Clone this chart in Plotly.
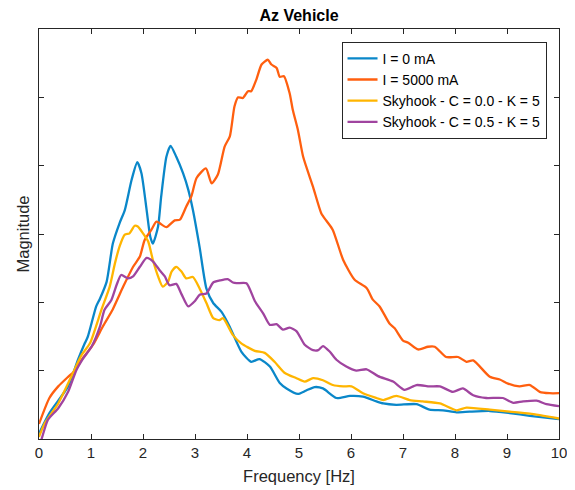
import plotly.graph_objects as go

title_text = "Az Vehicle"
x_label = "Frequency [Hz]"
y_label = "Magnitude"
x_ticks = [0, 1, 2, 3, 4, 5, 6, 7, 8, 9, 10]
y_ticks = [0, 1, 2, 3, 4, 5, 6]

names = ["I = 0 mA", "I = 5000 mA", "Skyhook - C = 0.0 - K = 5", "Skyhook - C = 0.5 - K = 5"]
colors = ["#0A87C9", "#FF5F0F", "#FFB500", "#A0449F"]

f_i0 = [0, 0.2, 0.56, 0.75, 0.88, 0.94, 1.1, 1.17, 1.3, 1.42, 1.55, 1.65, 1.78, 1.89, 1.97, 2.07, 2.14,
        2.19, 2.29, 2.35, 2.45, 2.53, 2.64, 2.77, 2.87, 2.96, 3.09, 3.22, 3.35, 3.51, 3.67, 3.89, 4.08,
        4.24, 4.44, 4.63, 4.76, 4.98, 5.14, 5.3, 5.46, 5.72, 5.98, 6.23, 6.49, 6.62, 6.87, 7.26, 7.51,
        7.77, 8.03, 8.28, 8.67, 9.05, 9.44, 10]
m_i0 = [0.08, 0.38, 0.77, 1.16, 1.4, 1.5, 1.94, 2.05, 2.3, 2.86, 3.16, 3.35, 3.79, 4.05, 3.89, 3.35, 2.96,
        2.86, 3.11, 3.55, 4.13, 4.29, 4.13, 3.89, 3.65, 3.35, 2.8, 2.2, 1.99, 1.86, 1.64, 1.28, 1.13,
        1.17, 1.06, 0.82, 0.74, 0.66, 0.71, 0.76, 0.74, 0.6, 0.63, 0.62, 0.55, 0.52, 0.5, 0.51, 0.43,
        0.42, 0.39, 0.4, 0.41, 0.38, 0.34, 0.29]

f_i5000 = [0, 0.2, 0.37, 0.56, 0.69, 0.82, 1.04, 1.23, 1.42, 1.62, 1.81, 1.94, 2.03, 2.16, 2.26, 2.45,
           2.61, 2.71, 2.83, 2.93, 3.03, 3.21, 3.32, 3.44, 3.57, 3.67, 3.76, 3.83, 3.92, 4.02, 4.08,
           4.18, 4.28, 4.4, 4.47, 4.57, 4.63, 4.71, 4.82, 4.88, 4.98, 5.08, 5.27, 5.43, 5.53, 5.65,
           5.85, 6.07, 6.3, 6.42, 6.55, 6.74, 6.84, 7.0, 7.1, 7.29, 7.48, 7.61, 7.83, 8.06, 8.22, 8.35,
           8.67, 8.86, 9.02, 9.24, 9.44, 9.63, 9.82, 10]
m_i5000 = [0.22, 0.6, 0.77, 0.91, 1.0, 1.16, 1.38, 1.65, 1.9, 2.23, 2.52, 2.67, 2.91, 3.06, 3.18, 3.1,
           3.2, 3.21, 3.4, 3.55, 3.82, 3.96, 3.74, 3.87, 4.28, 4.43, 4.87, 5.0, 4.99, 5.09, 5.09,
           5.26, 5.48, 5.55, 5.48, 5.43, 5.3, 5.31, 5.06, 4.82, 4.52, 4.13, 3.69, 3.3, 3.19, 3.06,
           2.62, 2.33, 2.21, 2.04, 1.94, 1.69, 1.62, 1.44, 1.41, 1.31, 1.35, 1.35, 1.2, 1.2, 1.13, 1.15,
           0.91, 0.87, 0.81, 0.77, 0.79, 0.69, 0.67, 0.67]

f_sky0 = [0, 0.11, 0.37, 0.62, 0.82, 0.98, 1.2, 1.36, 1.46, 1.55, 1.65, 1.74, 1.84, 1.9, 2.0, 2.1, 2.19,
          2.29, 2.38, 2.48, 2.55, 2.64, 2.74, 2.83, 2.96, 3.09, 3.22, 3.35, 3.47, 3.54, 3.73, 3.89,
          4.15, 4.34, 4.53, 4.72, 4.95, 5.11, 5.27, 5.46, 5.65, 5.85, 6.01, 6.23, 6.49, 6.62, 6.87,
          7.13, 7.38, 7.71, 8.03, 8.22, 8.67, 9.05, 9.44, 10]
m_sky0 = [0.03, 0.23, 0.52, 0.91, 1.23, 1.4, 1.89, 2.23, 2.57, 2.82, 2.99, 3.01, 3.12, 3.11, 3.01, 2.89,
          2.62, 2.38, 2.23, 2.3, 2.45, 2.52, 2.45, 2.35, 2.37, 2.2, 1.99, 1.77, 1.74, 1.77, 1.52, 1.4,
          1.29, 1.26, 1.13, 0.97, 0.89, 0.84, 0.89, 0.86, 0.79, 0.77, 0.77, 0.67, 0.6, 0.57, 0.63,
          0.57, 0.55, 0.52, 0.42, 0.46, 0.43, 0.4, 0.37, 0.3]

f_sky05 = [0, 0.05, 0.17, 0.37, 0.56, 0.72, 0.85, 1.01, 1.17, 1.26, 1.39, 1.49, 1.58, 1.71, 1.81, 1.94,
           2.07, 2.19, 2.32, 2.42, 2.51, 2.64, 2.74, 2.87, 3.0, 3.09, 3.22, 3.35, 3.48, 3.63, 3.73,
           3.8, 3.99, 4.15, 4.31, 4.44, 4.57, 4.69, 4.82, 4.95, 5.11, 5.27, 5.37, 5.46, 5.59, 5.72,
           5.91, 6.1, 6.3, 6.52, 6.81, 7.03, 7.26, 7.51, 7.71, 7.96, 8.15, 8.35, 8.6, 8.92, 9.12, 9.31,
           9.57, 9.76, 10]
m_sky05 = [-0.1, 0.0, 0.28, 0.45, 0.69, 1.01, 1.18, 1.35, 1.64, 1.89, 2.03, 2.25, 2.4, 2.35, 2.38, 2.52,
           2.65, 2.6, 2.47, 2.38, 2.25, 2.27, 2.12, 1.94, 2.02, 2.11, 2.13, 2.29, 2.32, 2.34, 2.29,
           2.28, 2.28, 2.02, 1.84, 1.67, 1.68, 1.6, 1.63, 1.58, 1.38, 1.3, 1.3, 1.36, 1.28, 1.16,
           1.06, 1.0, 1.02, 0.92, 0.84, 0.72, 0.79, 0.77, 0.77, 0.69, 0.74, 0.64, 0.6, 0.6, 0.53, 0.55,
           0.56, 0.51, 0.48]

series_f = [f_i0, f_i5000, f_sky0, f_sky05]
series_m = [m_i0, m_i5000, m_sky0, m_sky05]

FONT = "Liberation Sans, Arial, Helvetica, sans-serif"
AX = "#262626"

fig = go.Figure()
for name, col, fx, my in zip(names, colors, series_f, series_m):
    fig.add_trace(go.Scatter(x=fx, y=my, mode="lines", name=name,
                             line=dict(color=col, width=2.3, shape="spline", smoothing=0.6)))

axis_common = dict(showgrid=False, zeroline=False, showline=True, linecolor=AX, linewidth=1,
                   mirror="ticks", ticks="inside", ticklen=5, tickcolor=AX, tickwidth=1,
                   automargin=False)

# the page body adds an 8px offset, so the figure is sized to the rest of the window
fig.update_layout(
    width=567, height=482,
    margin=dict(l=31, r=16, t=21, b=51, autoexpand=False),
    paper_bgcolor="white", plot_bgcolor="white",
    font=dict(family=FONT, color=AX),
    title=dict(text="<b>" + title_text + "</b>", x=0.5, xanchor="center", xref="paper",
               y=1, yref="container", yanchor="top", pad=dict(t=2), automargin=False,
               font=dict(size=16, color="black", family=FONT)),
    xaxis=dict(range=[0, 10], tickvals=x_ticks, ticktext=[str(v) for v in x_ticks],
               tickfont=dict(size=15, color=AX, family=FONT),
               title=dict(text=x_label, font=dict(size=16.5, color=AX, family=FONT), standoff=10),
               **axis_common),
    yaxis=dict(range=[0, 6], tickvals=y_ticks, showticklabels=False,
               title=dict(text=y_label, font=dict(size=16.5, color=AX, family=FONT), standoff=4),
               **axis_common),
    legend=dict(x=0.976, y=0.969, xanchor="right", yanchor="top",
                bgcolor="white", bordercolor="#262626", borderwidth=1,
                font=dict(size=14, color="black", family=FONT),
                tracegroupgap=0),
    showlegend=True,
)

fig.write_html("out.html")
